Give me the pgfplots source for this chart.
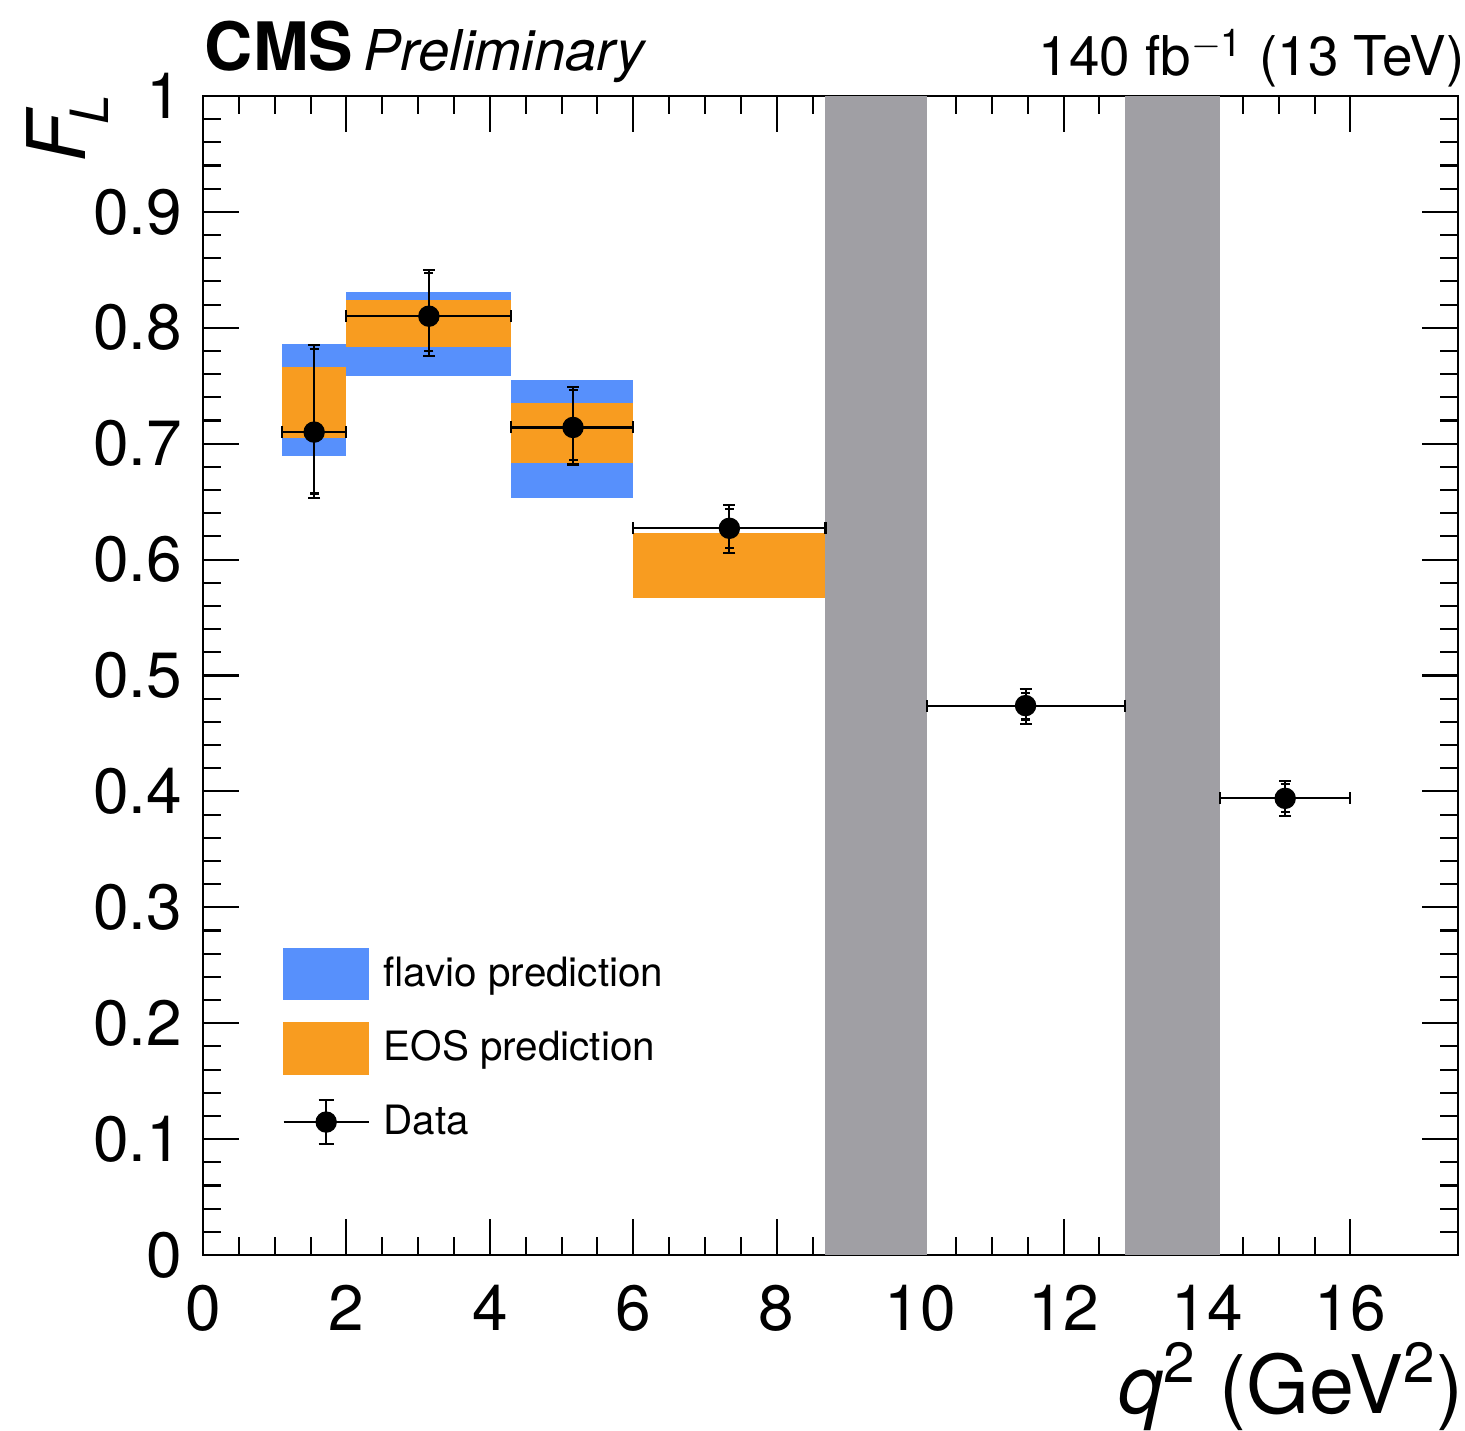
\documentclass[border=0pt]{standalone}
\usepackage{fontspec}
\setmainfont{TeX Gyre Heros}
\usepackage{pgfplots}
\pgfplotsset{compat=1.18}
\usepackage{pgfplotstable}
\definecolor{flavio}{HTML}{5790FC}
\definecolor{eos}{HTML}{F89C20}
\definecolor{band}{HTML}{A09FA4}

\pgfplotstableread{
x y exm exp eym eyp sym syp
1.55 0.710 0.45 0.45 0.057 0.075 0.053 0.072
3.15 0.810 1.15 1.15 0.034 0.040 0.030 0.037
5.16 0.714 0.86 0.84 0.032 0.035 0.028 0.032
7.34 0.627 1.34 1.34 0.021 0.020 0.017 0.017
11.47 0.474 1.38 1.39 0.016 0.014 0.012 0.011
15.09 0.394 0.91 0.91 0.015 0.015 0.012 0.012
}\datatable

\begin{document}
\begin{tikzpicture}
\begin{axis}[
  scale only axis, width=125.5mm, height=115.9mm,
  xmin=0, xmax=17.5, ymin=0, ymax=1,
  clip=false,
  axis line style={line width=0.8pt},
  every tick/.style={black, line width=0.6pt},
  major tick length=3.6mm, minor tick length=1.8mm,
  tick align=inside,
  xtick={0,2,4,6,8,10,12,14,16}, minor x tick num=3,
  ytick={0,0.1,0.2,0.3,0.4,0.5,0.6,0.7,0.8,0.9,1}, minor y tick num=4,
  xtick pos=both, ytick pos=both, xticklabel pos=lower, yticklabel pos=left,
  ticklabel style={font=\fontsize{18.2}{20}\selectfont, inner sep=0pt},
  /pgf/number format/assume math mode=true,
  yticklabel style={anchor=east, xshift=-2mm},
  xticklabel style={anchor=base, yshift=-7.5mm},
  xlabel={\textit{q}\textsuperscript{2} (GeV\textsuperscript{2})},
  xlabel style={at={(rel axis cs:1.005,-0.137)}, anchor=base east, inner sep=0pt, font=\fontsize{23}{26}\selectfont},
  ylabel={\textit{F}\kern-1.8mm\raisebox{-2.3mm}{\fontsize{15}{15}\selectfont\textit{L}}},
  ylabel style={at={(rel axis cs:-0.094,1.0009)}, anchor=base east, inner sep=0pt, font=\fontsize{23}{26}\selectfont},
  legend style={at={(rel axis cs:0.0629,0.2657)}, anchor=north west, draw=none, fill=none,
    inner sep=0pt, row sep=2.2mm, column sep=1.4mm, font=\fontsize{11.5}{13}\selectfont,
    nodes={inner sep=0pt}},
  legend cell align=left,
]
% flavio boxes
\addplot[fill=flavio, draw=none, forget plot] coordinates {(1.1,0.689) (2,0.689) (2,0.786) (1.1,0.786)} -- cycle;
\addplot[fill=flavio, draw=none, forget plot] coordinates {(2,0.758) (4.3,0.758) (4.3,0.831) (2,0.831)} -- cycle;
\addplot[fill=flavio, draw=none, forget plot] coordinates {(4.3,0.653) (6,0.653) (6,0.755) (4.3,0.755)} -- cycle;
% EOS boxes
\addplot[fill=eos, draw=none, forget plot] coordinates {(1.1,0.705) (2,0.705) (2,0.766) (1.1,0.766)} -- cycle;
\addplot[fill=eos, draw=none, forget plot] coordinates {(2,0.783) (4.3,0.783) (4.3,0.824) (2,0.824)} -- cycle;
\addplot[fill=eos, draw=none, forget plot] coordinates {(4.3,0.683) (6,0.683) (6,0.735) (4.3,0.735)} -- cycle;
\addplot[fill=eos, draw=none, forget plot] coordinates {(6,0.567) (8.68,0.567) (8.68,0.623) (6,0.623)} -- cycle;
% vetoed regions
\addplot[fill=band, draw=none, forget plot] coordinates {(8.68,0) (10.09,0) (10.09,1) (8.68,1)} -- cycle;
\addplot[fill=band, draw=none, forget plot] coordinates {(12.86,0) (14.18,0) (14.18,1) (12.86,1)} -- cycle;
% data: stat errors
\addplot[black, only marks, mark=none, forget plot,
  error bars/.cd, y dir=both, y explicit,
  error bar style={draw=black, line width=0.6pt},
  error mark options={draw=black, rotate=90, line width=0.6pt, mark size=0.45mm}]
  table[x=x, y=y, y error plus=syp, y error minus=sym] {\datatable};
% data: total errors
\addplot[only marks, black, mark=*, mark size=1mm, forget plot,
  error bars/.cd, x dir=both, x explicit, y dir=both, y explicit,
  error bar style={draw=black, line width=0.6pt},
  error mark options={draw=black, rotate=90, line width=0.6pt, mark size=0.6mm}]
  table[x=x, y=y, x error plus=exp, x error minus=exm, y error plus=eyp, y error minus=eym] {\datatable};
% legend
\addlegendimage{legend image code/.code={\fill[flavio] (0mm,-2.55mm) rectangle (8.5mm,2.55mm);}}
\addlegendentry{flavio prediction}
\addlegendimage{legend image code/.code={\fill[eos] (0mm,-2.55mm) rectangle (8.5mm,2.55mm);}}
\addlegendentry{EOS prediction}
\addlegendimage{legend image code/.code={%
  \path[draw=none, fill=none] (0mm,-2.55mm) rectangle (8.5mm,2.55mm);
  \draw[black, line width=0.6pt] (0mm,0mm) -- (8.5mm,0mm);
  \draw[black, line width=0.6pt] (4.25mm,-2.2mm) -- (4.25mm,2.2mm);
  \draw[black, line width=0.6pt] (3.5mm,2.2mm) -- (5mm,2.2mm);
  \draw[black, line width=0.6pt] (3.5mm,-2.2mm) -- (5mm,-2.2mm);
  \fill[black] (4.25mm,0mm) circle (1mm);}}
\addlegendentry{Data}
% header texts
\node[anchor=base west, inner sep=0pt] at (rel axis cs:0.001,1.0224)
  {{\fontsize{19}{21}\selectfont\bfseries CMS} {\fontsize{16}{18}\selectfont\itshape Preliminary}};
\node[anchor=base east, inner sep=0pt] at (rel axis cs:1.0056,1.018)
  {\fontsize{15.6}{18}\selectfont 140 fb\textsuperscript{$-$1} (13 TeV)};
% bounding box
\path (rel axis cs:-0.16175,-0.14754) rectangle (rel axis cs:1.00558,1.08283);
\end{axis}
\end{tikzpicture}
\end{document}
